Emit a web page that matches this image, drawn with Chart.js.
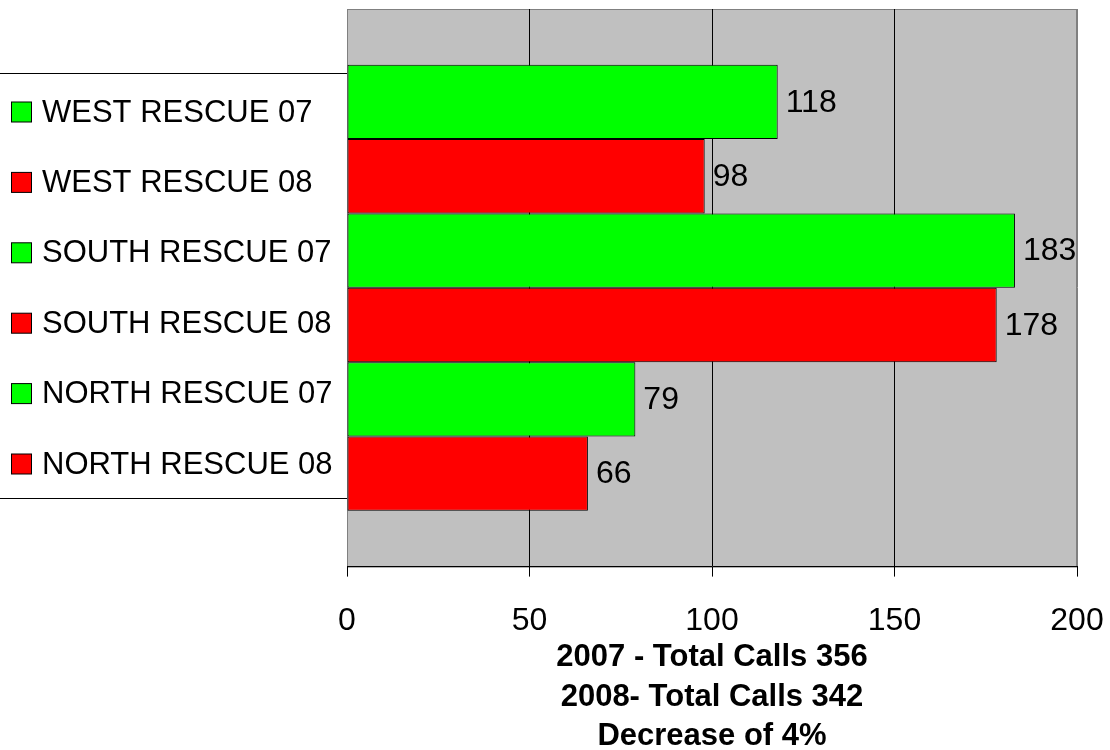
<!DOCTYPE html>
<html>
<head>
<meta charset="utf-8">
<script src="https://cdn.jsdelivr.net/npm/chart.js@4.4.1/dist/chart.umd.min.js"></script>
<style>
    html, body { margin: 0; padding: 0; background: #fff; }
    #wrap { width: 1110px; height: 750px; position: relative; }
</style>
</head>
<body>
<div id="wrap"><canvas id="rescueChart"></canvas></div>
<script>
// series, top to bottom
const seriesNames = ['WEST RESCUE 07', 'WEST RESCUE 08', 'SOUTH RESCUE 07', 'SOUTH RESCUE 08', 'NORTH RESCUE 07', 'NORTH RESCUE 08'];
const seriesValues = [118, 98, 183, 178, 79, 66];
const seriesColors = ['#00FF00', '#FF0000', '#00FF00', '#FF0000', '#00FF00', '#FF0000'];
const xTicks = [0, 50, 100, 150, 200];
const titleLines = ['2007 - Total Calls 356', '2008- Total Calls 342', 'Decrease of 4%'];

const fontFamily = '"Liberation Sans", Arial, sans-serif';

const datasets = seriesNames.map(function(name, i) {
    return {
        label: name,
        data: [seriesValues[i]],
        backgroundColor: seriesColors[i],
        borderColor: '#000',
        borderWidth: 1,
        borderSkipped: false,
        categoryPercentage: 0.8,
        barPercentage: 1.0
    };
});

// gray plot background with border
const plotBackground = {
    id: 'plotBackground',
    beforeDraw: function(chart) {
        const a = chart.chartArea;
        const ctx = chart.ctx;
        ctx.save();
        ctx.fillStyle = '#C0C0C0';
        ctx.fillRect(a.left, a.top, a.right - a.left, a.bottom - a.top);
        ctx.strokeStyle = '#808080';
        ctx.lineWidth = 1;
        ctx.strokeRect(a.left + 0.5, a.top + 0.5, a.right - a.left - 1, a.bottom - a.top);
        ctx.restore();
    }
};

// value labels at the bar ends
const valueLabels = {
    id: 'valueLabels',
    afterDatasetsDraw: function(chart) {
        const ctx = chart.ctx;
        ctx.save();
        ctx.font = '32px ' + fontFamily;
        ctx.fillStyle = '#000';
        ctx.textAlign = 'left';
        ctx.textBaseline = 'middle';
        chart.data.datasets.forEach(function(ds, i) {
            const bar = chart.getDatasetMeta(i).data[0];
            ctx.fillText(String(ds.data[0]), bar.x + 8, bar.y + 1);
        });
        ctx.restore();
    }
};

// legend box on the left + bold caption under the axis
const sideLegend = {
    id: 'sideLegend',
    afterDraw: function(chart) {
        const ctx = chart.ctx;
        const a = chart.chartArea;
        ctx.save();
        ctx.strokeStyle = '#000';
        ctx.lineWidth = 1;
        ctx.beginPath();
        ctx.moveTo(0, 73.5);
        ctx.lineTo(a.left, 73.5);
        ctx.moveTo(0, 498.5);
        ctx.lineTo(a.left, 498.5);
        ctx.stroke();

        ctx.font = '31px ' + fontFamily;
        ctx.textAlign = 'left';
        ctx.textBaseline = 'middle';
        chart.data.datasets.forEach(function(ds, i) {
            const y = 112 + i * 70.4;
            ctx.fillStyle = ds.backgroundColor;
            ctx.fillRect(11.5, y - 10, 20, 20);
            ctx.strokeStyle = '#000';
            ctx.strokeRect(11.5, y - 10, 20, 20);
            ctx.fillStyle = '#000';
            ctx.fillText(ds.label, 42, y + 1);
        });

        ctx.font = 'bold 31px ' + fontFamily;
        ctx.textAlign = 'center';
        const cx = (a.left + a.right) / 2;
        titleLines.forEach(function(line, i) {
            ctx.fillText(line, cx, a.bottom + 91 + i * 39.5);
        });
        ctx.restore();
    }
};

const config = {
    type: 'bar',
    data: {
        labels: [''],
        datasets: datasets
    },
    options: {
        indexAxis: 'y',
        responsive: true,
        maintainAspectRatio: false,
        animation: false,
        events: [],
        layout: {
            padding: { left: 347, top: 9, right: 33, bottom: 85 }
        },
        plugins: {
            legend: { display: false },
            tooltip: { enabled: false }
        },
        scales: {
            y: {
                display: false,
                offset: true
            },
            x: {
                min: 0,
                max: 200,
                afterBuildTicks: function(axis) {
                    axis.ticks = xTicks.map(function(v) { return { value: v }; });
                },
                afterFit: function(axis) {
                    axis.paddingLeft = 0;
                    axis.paddingRight = 0;
                },
                border: { display: true, color: '#000', width: 1 },
                grid: {
                    color: function(c) {
                        const v = c.tick ? c.tick.value : 0;
                        return (v === 0 || v === 200) ? '#808080' : '#000';
                    },
                    tickColor: '#000',
                    tickLength: 10,
                    lineWidth: 1
                },
                ticks: {
                    color: '#000',
                    padding: 25,
                    maxRotation: 0,
                    font: { family: fontFamily, size: 32 }
                }
            }
        }
    },
    plugins: [plotBackground, valueLabels, sideLegend]
};

new Chart(document.getElementById('rescueChart').getContext('2d'), config);
</script>
</body>
</html>
